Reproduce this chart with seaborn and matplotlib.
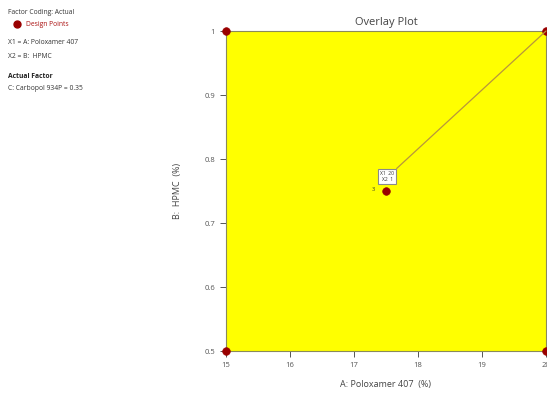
import matplotlib
matplotlib.use("Agg")
import matplotlib.pyplot as plt
import seaborn as sns
import pandas as pd

# Design points (A: Poloxamer 407, B: HPMC) and replicate counts
poloxamer = [15, 20, 15, 20, 17.5]
hpmc = [1.0, 1.0, 0.5, 0.5, 0.75]
replicates = ["", "", "", "", "3"]

x_ticks = [15, 16, 17, 18, 19, 20]
y_ticks = [0.5, 0.6, 0.7, 0.8, 0.9, 1.0]
y_tick_labels = ["0.5", "0.6", "0.7", "0.8", "0.9", "1"]

# Flag readout
flag_x, flag_y = 20, 1
flag_text = "X1  20\nX2  1"

sns.set_style("white")
plt.rcParams["font.family"] = ["Open Sans", "DejaVu Sans"]

df = pd.DataFrame({"A": poloxamer, "B": hpmc, "n": replicates})

fig = plt.figure(figsize=(5.47, 3.96), dpi=100)
ax = fig.add_axes([226 / 547, 1 - 351 / 396, 320 / 547, 320 / 396])

ax.set_facecolor("#ffff00")
ax.set_xlim(15, 20)
ax.set_ylim(0.5, 1.0)

sns.scatterplot(data=df, x="A", y="B", ax=ax, color="#990000", s=30,
                edgecolor="#990000", linewidth=0.5, zorder=5, clip_on=False,
                legend=False)

for _, r in df.iterrows():
    if r["n"]:
        ax.annotate(r["n"], (r["A"], r["B"]), xytext=(-9, 1),
                    textcoords="offset points", fontsize=4, color="#333333",
                    ha="center", va="center", annotation_clip=False)

ax.annotate(flag_text, xy=(flag_x, flag_y), xytext=(17.52, 0.773),
            fontsize=3.6, color="#333333", ha="center", va="center",
            linespacing=1.3,
            bbox=dict(boxstyle="square,pad=0.4", fc="white", ec="#8a8a8a", lw=0.8),
            arrowprops=dict(arrowstyle="-", color="#b8963c", lw=0.9,
                            shrinkA=0, shrinkB=0, relpos=(1, 1)),
            annotation_clip=False, zorder=6)

ax.set_xticks(x_ticks)
ax.set_xticklabels([str(t) for t in x_ticks])
ax.set_yticks(y_ticks)
ax.set_yticklabels(y_tick_labels)
ax.tick_params(axis="both", direction="out", length=4, width=0.7,
               colors="#555555", labelsize=5.5, pad=4, bottom=True, left=True)
ax.tick_params(axis="both", labelcolor="#555555")

for side in ["left", "bottom", "top", "right"]:
    ax.spines[side].set_color("#8a8a5a")
    ax.spines[side].set_linewidth(0.8)

ax.set_xlabel("A: Poloxamer 407  (%)", fontsize=6.5, color="#444444", labelpad=8)
ax.set_ylabel("B:  HPMC  (%)", fontsize=6.5, color="#444444", labelpad=16)
ax.set_title("Overlay Plot", fontsize=8, color="#444444", pad=4)

# Side panel text
fs = 4.9
fig.text(8 / 547, 1 - 12 / 396, "Factor Coding: Actual", fontsize=fs,
         color="#333333", va="center")
fig.add_artist(plt.Line2D([17 / 547], [1 - 24 / 396], marker="o",
                          markersize=5, color="#990000", transform=fig.transFigure))
fig.text(26 / 547, 1 - 24 / 396, "Design Points", fontsize=fs,
         color="#aa1111", va="center")
fig.text(8 / 547, 1 - 43 / 396, "X1 = A: Poloxamer 407", fontsize=fs,
         color="#333333", va="center")
fig.text(8 / 547, 1 - 56 / 396, "X2 = B:  HPMC", fontsize=fs,
         color="#333333", va="center")
fig.text(8 / 547, 1 - 76 / 396, "Actual Factor", fontsize=fs,
         color="#222222", va="center", fontweight="bold")
fig.text(8 / 547, 1 - 88 / 396, "C: Carbopol 934P = 0.35", fontsize=fs,
         color="#333333", va="center")

fig.savefig("out.png", dpi=100)
